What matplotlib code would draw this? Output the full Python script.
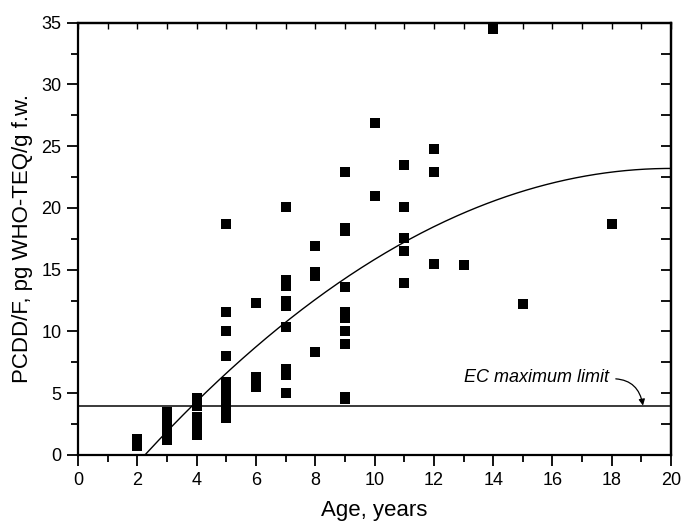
import matplotlib
matplotlib.use("Agg")
import matplotlib.pyplot as plt
import numpy as np

plt.rcParams["font.family"] = ["Liberation Sans", "DejaVu Sans"]

age_years = (
    [2] * 4
    + [3] * 9
    + [4] * 8
    + [5] * 12
    + [6] * 3
    + [7] * 9
    + [8] * 4
    + [9] * 10
    + [10] * 2
    + [11] * 5
    + [12] * 3
    + [13, 14, 15, 18]
)
pcdd_teq = (
    [0.7, 0.9, 1.1, 1.3]
    + [1.2, 1.5, 1.8, 2.0, 2.3, 2.6, 2.9, 3.2, 3.5]
    + [4.6, 4.3, 4.0, 3.1, 2.7, 2.3, 2.0, 1.6]
    + [18.7, 11.6, 10.0, 8.0, 5.9, 5.5, 5.0, 4.6, 4.2, 3.8, 3.4, 3.0]
    + [12.3, 6.3, 5.5]
    + [20.1, 14.2, 13.7, 12.5, 12.1, 10.4, 7.0, 6.5, 5.0]
    + [16.9, 14.8, 14.5, 8.3]
    + [22.9, 18.4, 18.1, 13.6, 11.6, 11.1, 10.0, 9.0, 4.7, 4.5]
    + [26.9, 21.0]
    + [23.5, 20.1, 17.6, 16.5, 13.9]
    + [24.8, 22.9, 15.5]
    + [15.4, 34.5, 12.2, 18.7]
)

# Quadratic trend fitted in the source figure (np.polyval order)
fit_coefs = [-0.0737, 2.948, -6.28]
ec_limit = 4.0

fig = plt.figure(figsize=(6.81, 5.24), dpi=100)
ax = fig.add_axes([0.1145, 0.1317, 0.871, 0.8250])

ax.axhline(ec_limit, color="#3a3a3a", linewidth=1.4, zorder=1)

fit_x = np.linspace(0, 20, 300)
ax.plot(fit_x, np.polyval(fit_coefs, fit_x), color="black", linewidth=1.0, zorder=2)

ax.scatter(age_years, pcdd_teq, marker="s", s=44, color="black",
           linewidths=0, zorder=3)

ax.annotate(
    "EC maximum limit",
    xy=(19.05, ec_limit),
    xytext=(17.9, 6.3),
    ha="right",
    va="center",
    fontsize=13,
    fontstyle="italic",
    arrowprops=dict(
        arrowstyle="-|>",
        connectionstyle="arc3,rad=-0.45",
        color="black",
        linewidth=0.9,
        mutation_scale=9,
        relpos=(1.0, 0.4),
        shrinkA=3,
        shrinkB=0,
    ),
)

ax.set_xlim(0, 20)
ax.set_ylim(0, 35)
ax.set_xticks(np.arange(0, 21, 2))
ax.set_xticks(np.arange(0, 21, 1), minor=True)
ax.set_yticks(np.arange(0, 36, 5))
ax.set_yticks(np.arange(0, 36, 2.5), minor=True)
ax.tick_params(which="major", direction="out", length=8, width=1.3,
               labelsize=13, pad=4)
ax.tick_params(which="minor", direction="out", length=5, width=1.3)

# inward ticks on the top and right frame, no labels
top = ax.secondary_xaxis("top")
top.set_xticks(np.arange(0, 21, 1))
top.tick_params(direction="in", length=4, width=1.0, labeltop=False)
right = ax.secondary_yaxis("right")
right.set_yticks(np.arange(0, 36, 2.5))
right.tick_params(direction="in", length=7, width=1.3, labelright=False)

for sp in list(ax.spines.values()) + [top.spines["top"], right.spines["right"]]:
    sp.set_linewidth(1.6)

ax.set_xlabel("Age, years", fontsize=16, labelpad=8)
ax.set_ylabel("PCDD/F, pg WHO-TEQ/g f.w.", fontsize=16, labelpad=6)

fig.savefig("out.png", dpi=100)
